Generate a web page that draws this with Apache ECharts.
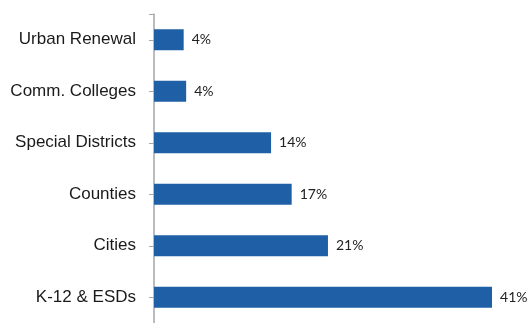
<!DOCTYPE html>
<html>
<head>
<meta charset="utf-8">
<script src="https://cdn.jsdelivr.net/npm/echarts@6/dist/echarts.min.js"></script>
<style>html,body{margin:0;padding:0;background:#fff;}#c{width:529px;height:323px;}</style>
</head>
<body>
<div id="c"></div>
<script>
const categories = ['K-12 & ESDs', 'Cities', 'Counties', 'Special Districts', 'Comm. Colleges', 'Urban Renewal'];
const shares = [41, 21.1, 16.7, 14.2, 3.9, 3.6];

const chart = echarts.init(document.getElementById('c'));
chart.setOption({
  animation: false,
  grid: { left: 154, right: 4, top: 14, height: 312, containLabel: false },
  xAxis: {
    type: 'value', min: 0, max: 45,
    show: false
  },
  yAxis: [{
    type: 'category',
    data: categories,
    axisLine: { show: true, lineStyle: { color: '#a6a6a6', width: 1.5 } },
    axisTick: { show: true, length: 5, alignWithLabel: true, lineStyle: { color: '#a6a6a6', width: 1 } },
    axisLabel: { margin: 18, fontFamily: 'Liberation Sans, Arial, sans-serif', fontSize: 17, color: '#1a1a1a' },
    splitLine: { show: false }
  }, {
    type: 'value', min: 0, max: 1, interval: 1, position: 'left',
    axisLine: { show: false },
    axisTick: { show: true, length: 5, lineStyle: { color: '#a6a6a6', width: 1 } },
    axisLabel: { show: false },
    splitLine: { show: false }
  }],
  series: [{
    type: 'bar',
    data: shares,
    barWidth: 21,
    itemStyle: { color: '#1f5fa6' },
    label: {
      show: true, position: 'right', distance: 8,
      fontFamily: 'Lato, sans-serif', fontSize: 14, color: '#222',
      formatter: p => Math.round(p.value) + '%'
    }
  }]
});
</script>
</body>
</html>
